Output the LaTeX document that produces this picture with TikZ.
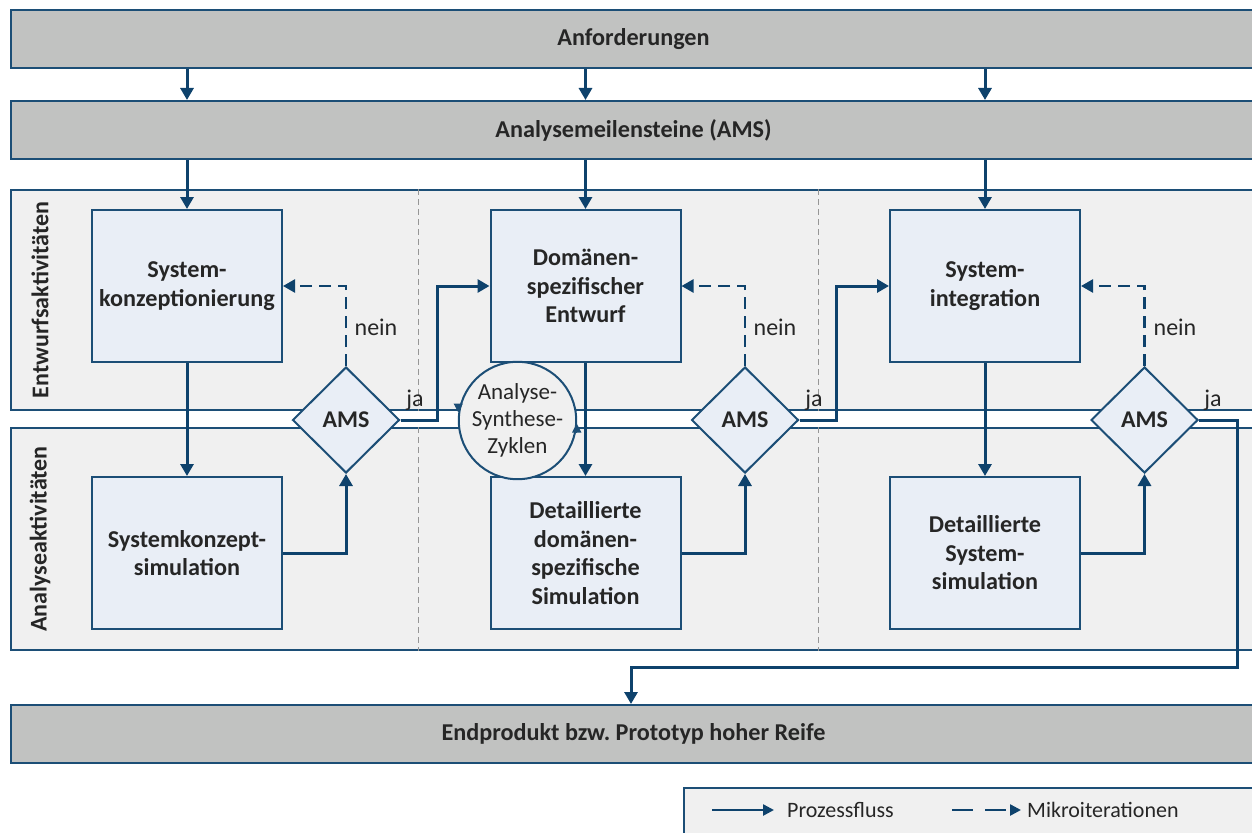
\documentclass[tikz,border=0pt]{standalone}
\usepackage{fontspec}
\setmainfont{Carlito}
\usetikzlibrary{arrows.meta,shapes.geometric,calc}
\frenchspacing

\definecolor{flowblue}{RGB}{14,66,108}
\definecolor{edgeblue}{RGB}{28,78,118}
\definecolor{bandgray}{RGB}{193,194,193}
\definecolor{lanegray}{RGB}{240,240,240}
\definecolor{boxblue}{RGB}{233,238,246}
\definecolor{txtgray}{RGB}{38,38,38}
\definecolor{sepgray}{RGB}{150,150,150}

\begin{document}
\begin{tikzpicture}[x=1pt,y=-1pt,
  font=\fontsize{24}{28.5}\selectfont, text=txtgray,
  band/.style={draw=edgeblue, line width=2pt, fill=bandgray,
    minimum width=1245pt, minimum height=58pt, inner sep=0pt,
    font=\fontsize{24.2}{28.5}\selectfont\bfseries},
  lane/.style={draw=edgeblue, line width=2pt, fill=lanegray,
    minimum width=1245pt, inner sep=0pt},
  lanelabel/.style={rotate=90, font=\fontsize{24}{28.5}\selectfont\bfseries, inner sep=0pt},
  activity/.style={draw=edgeblue, line width=2pt, fill=boxblue,
    minimum width=190pt, minimum height=152pt, inner sep=0pt, align=center,
    font=\fontsize{24.2}{28.5}\selectfont\bfseries},
  gate/.style={diamond, draw=edgeblue, line width=2pt, fill=boxblue,
    minimum width=107pt, minimum height=106pt, inner sep=0pt,
    font=\fontsize{24}{28.5}\selectfont\bfseries},
  cyclenode/.style={circle, draw=edgeblue, line width=2pt, fill=lanegray,
    minimum size=102pt, inner sep=0pt, align=center,
    font=\fontsize{23}{27}\selectfont},
  separator/.style={draw=sepgray, line width=1pt, dash pattern=on 6pt off 4pt},
  flow/.style={draw=flowblue, line width=3pt,
    -{Triangle[length=12pt,width=13pt]}},
  iter/.style={draw=flowblue, line width=2.5pt, dash pattern=on 12pt off 7pt,
    -{Triangle[length=12pt,width=13pt]}},
  cyclearrow/.style={draw=edgeblue, line width=1.5pt,
    -{Triangle[length=9pt,width=9pt]}},
  lbl/.style={anchor=base, inner sep=0pt, font=\fontsize{24}{28.5}\selectfont},
  legendtext/.style={anchor=base west, inner sep=0pt, font=\fontsize{22}{26}\selectfont}
]
\useasboundingbox (0,0) rectangle (1252,832);
\clip (0,0) rectangle (1252,832);

% bands across the full width
\node[band] (anf) at (633.5,39) {Anforderungen};
\node[band] (ams) at (633.5,130) {Analysemeilensteine (AMS)};
\node[band] (endp) at (633.5,734) {Endprodukt bzw. Prototyp hoher Reife};

% swim lanes
\node[lane, minimum height=220pt] (lane1) at (633.5,300) {};
\node[lane, minimum height=222pt] (lane2) at (633.5,539) {};
\node[lanelabel] (lab1) at (40,300) {Entwurfsaktivitäten};
\node[lanelabel] (lab2) at (40,539) {Analyseaktivitäten};

% phase separators
\coordinate (s1) at (418,0);
\coordinate (s2) at (818,0);
\foreach \s in {s1,s2}{
  \draw[separator] (lane1.north -| \s) -- (lane1.south -| \s);
  \draw[separator] (lane2.north -| \s) -- (lane2.south -| \s);
}

% activities
\node[activity] (box1) at (187,286) {System-\\konzeptionierung};
\node[activity] (box2) at (585.5,286) {Domänen-\\spezifischer\\Entwurf};
\node[activity] (box3) at (985,286) {System-\\integration};
\node[activity] (box4) at (187,553) {Systemkonzept-\\simulation};
\node[activity] (box5) at (585.5,553) {Detaillierte\\domänen-\\spezifische\\Simulation};
\node[activity] (box6) at (985,553) {Detaillierte\\System-\\simulation};

% analysis-synthesis cycle
\node[cyclenode] (asz) at (517.5,420.5) {Analyse-\\Synthese-\\Zyklen};
\draw[cyclearrow] ($(asz.west)+(0.5,-16)$) -- ($(asz.west)+(0.5,-8)$);
\draw[cyclearrow] ($(asz.east)+(-0.5,12)$) -- ($(asz.east)+(-0.5,3)$);

% milestone gates
\node[gate] (d1) at (346,420) {AMS};
\node[gate] (d2) at (745,420) {AMS};
\node[gate] (d3) at (1144.5,420) {AMS};

% requirements -> milestones -> design activities
\foreach \b in {box1,box2,box3}{
  \draw[flow] (anf.south -| \b.north) -- (ams.north -| \b.north);
  \draw[flow] (ams.south -| \b.north) -- (\b.north);
}

% design -> analysis
\draw[flow] (box1.south) -- (box4.north);
\draw[flow] (box2.south) -- (box5.north);
\draw[flow] (box3.south) -- (box6.north);

% analysis -> gate
\draw[flow] (box4.east) -| (d1.south);
\draw[flow] (box5.east) -| (d2.south);
\draw[flow] (box6.east) -| (d3.south);

% micro iterations (nein)
\draw[iter] (d1.north) |- (box1.east);
\draw[iter] (d2.north) |- (box2.east);
\draw[iter] (d3.north) |- (box3.east);
\node[lbl] (n1) at (376,335) {nein};
\node[lbl] (n2) at (775,335) {nein};
\node[lbl] (n3) at (1175,335) {nein};

% process flow (ja)
\draw[flow] (d1.east) -- ++(37,0) |- (box2.west);
\draw[flow] (d2.east) -- ++(37,0) |- (box3.west);
\coordinate (r1) at (1237,667);
\coordinate (r2) at (631,667);
\draw[flow] (d3.east) -| (r1) -- (r2) -- (r2 |- endp.north);
\node[lbl] (j1) at (415,406) {ja};
\node[lbl] (j2) at (814,406) {ja};
\node[lbl] (j3) at (1213,406) {ja};

% legend
\node[draw=edgeblue, line width=2pt, fill=lanegray, minimum width=576pt,
  minimum height=52pt, inner sep=0pt] (leg) at (972,814) {};
\coordinate (la) at (712,810);
\coordinate (lb) at (774,810);
\coordinate (lc) at (952,810);
\coordinate (ld) at (1021,810);
\draw[draw=flowblue, line width=2.5pt, -{Triangle[length=11pt,width=11pt]}] (la) -- (lb);
\node[legendtext] (lt1) at (787,817) {Prozessfluss};
\draw[draw=flowblue, line width=2.5pt, dash pattern=on 21pt off 12pt,
  -{Triangle[length=11pt,width=11pt]}] (lc) -- (ld);
\node[legendtext] (lt2) at (1027,817) {Mikroiterationen};
\end{tikzpicture}
\end{document}
